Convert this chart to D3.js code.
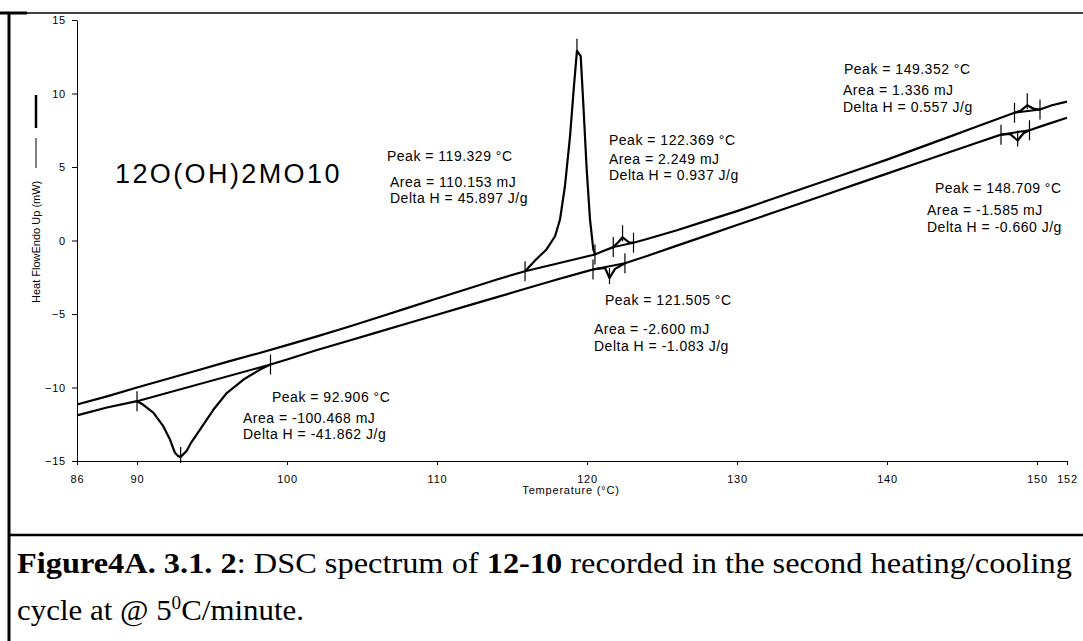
<!DOCTYPE html>
<html>
<head>
<meta charset="utf-8">
<script src="https://cdn.jsdelivr.net/npm/d3@7"></script>
<style>
  html, body { margin: 0; padding: 0; background: #fff; }
  svg { display: block; }
  .lbl { font-family: "Liberation Sans", Arial, sans-serif; fill: #000; }
  .cap { font-family: "Liberation Serif", "Times New Roman", serif; fill: #000; }
</style>
</head>
<body>
<svg id="chart" width="1083" height="641"></svg>
<script>
// ---------------- data ----------------
// Heating curve (upper trace)
const heatT  = [86, 88, 90, 92, 94, 96, 98, 100, 102, 104, 106, 108, 110, 112, 114, 115.87,
                116.6, 117.3, 117.87, 118.2, 118.53, 118.87, 119.13, 119.33, 119.58, 119.75, 119.98, 120.2, 120.42, 120.53,
                121, 121.75, 122.1, 122.37, 122.8, 123.1, 124, 126, 128, 130, 132, 134, 136, 138, 140, 142, 144, 146, 148,
                148.5, 148.9, 149.35, 149.8, 150.2, 151, 152];
const heatHF = [-11.16, -10.6, -10.0, -9.42, -8.84, -8.26, -7.7, -7.12, -6.52, -5.9, -5.25, -4.6, -3.95, -3.3, -2.65, -2.09,
                -1.29, -0.61, 0.29, 1.43, 3.69, 7.1, 10.5, 12.9, 12.54, 9.37, 4.83, 1.43, -0.61, -0.95,
                -0.75, -0.45, -0.1, 0.22, -0.12, -0.15, 0.1, 0.7, 1.35, 2.0, 2.7, 3.4, 4.1, 4.8, 5.5, 6.25, 7.0, 7.75, 8.5,
                8.69, 8.82, 9.2, 8.95, 8.91, 9.2, 9.45];
// Cooling curve (lower trace)
const coolT  = [86, 88, 90, 90.4, 91.1, 91.75, 92.2, 92.53, 92.75, 92.91, 93.3, 93.6, 94.2, 95.1, 96.0, 97.1, 98.2, 98.9,
                100, 102, 104, 106, 108, 110, 112, 114, 116, 118, 120, 120.4, 121.2, 121.5, 121.87, 122.53,
                124, 126, 128, 130, 132, 134, 136, 138, 140, 142, 144, 146, 147.6, 148.2, 148.71, 149.1, 149.5, 150.5, 152];
const coolHF = [-11.9, -11.36, -10.93, -11.16, -11.72, -12.63, -13.54, -14.44, -14.67, -14.72, -14.33, -13.76, -12.86, -11.5, -10.36, -9.46, -8.78, -8.44,
                -8.1, -7.45, -6.85, -6.25, -5.65, -5.05, -4.45, -3.85, -3.25, -2.65, -2.08, -1.97, -1.86, -2.55, -1.93, -1.55,
                -1.05, -0.35, 0.35, 1.05, 1.75, 2.45, 3.15, 3.85, 4.55, 5.25, 5.95, 6.65, 7.2, 7.25, 6.8, 7.3, 7.5, 7.85, 8.35];

// Peak integration limits [T, HF] pairs (start, end) -> straight baselines
const heatLimits = [[[115.87, -2.09], [120.53, -0.95]], [[121.75, -0.45], [123.1, -0.15]], [[148.5, 8.69], [150.2, 8.91]]];
const coolLimits = [[[90.0, -10.93], [98.9, -8.44]], [[120.4, -1.97], [122.53, -1.55]], [[147.6, 7.2], [149.5, 7.5]]];
// Peak markers [T, HF, direction]  (+1 endo up, -1 exo down)
const peakMarks = [[119.33, 12.9, 1], [122.37, 0.22, 1], [149.35, 9.2, 1], [92.91, -14.72, -1], [121.5, -2.55, -1], [148.71, 6.8, -1]];

// Annotation texts
const annoTexts = [
  ["Peak = 119.329 °C", "Area = 110.153 mJ", "Delta H = 45.897 J/g"],
  ["Peak = 122.369 °C", "Area = 2.249 mJ", "Delta H = 0.937 J/g"],
  ["Peak = 121.505 °C", "Area = -2.600 mJ", "Delta H = -1.083 J/g"],
  ["Peak = 92.906 °C", "Area = -100.468 mJ", "Delta H = -41.862 J/g"],
  ["Peak = 149.352 °C", "Area = 1.336 mJ", "Delta H = 0.557 J/g"],
  ["Peak = 148.709 °C", "Area = -1.585 mJ", "Delta H = -0.660 J/g"]
];
const xTicks = [86, 90, 100, 110, 120, 130, 140, 150, 152];
const yTicks = [-15, -10, -5, 0, 5, 10, 15];
const sampleName = "12O(OH)2MO10";
const xTitle = "Temperature (°C)";
const yTitle = "Heat FlowEndo Up (mW)";

// ---------------- layout ----------------
const annoPos = [
  [{x: 387, y: 161}, {x: 390, y: 187}, {x: 390, y: 203}],
  [{x: 609, y: 145}, {x: 609, y: 164}, {x: 609, y: 180}],
  [{x: 605, y: 305}, {x: 594, y: 334}, {x: 594, y: 351}],
  [{x: 272, y: 402}, {x: 243, y: 423}, {x: 243, y: 439}],
  [{x: 844, y: 74}, {x: 843, y: 95}, {x: 843, y: 112}],
  [{x: 935, y: 193}, {x: 927, y: 215}, {x: 927, y: 232}]
];

const svg = d3.select("#chart");
svg.append("rect").attr("width", 1083).attr("height", 641).attr("fill", "#fff");

const x = d3.scaleLinear().domain([86, 152]).range([77, 1067]);
const y = d3.scaleLinear().domain([-15, 15]).range([461, 20]);

// frame
svg.append("line").attr("x1", 8).attr("x2", 1083).attr("y1", 13).attr("y2", 13).attr("stroke", "#000").attr("stroke-width", 1.5);
svg.append("line").attr("x1", 0).attr("x2", 27).attr("y1", 13).attr("y2", 13).attr("stroke", "#000").attr("stroke-width", 3);
svg.append("line").attr("x1", 9).attr("x2", 9).attr("y1", 12).attr("y2", 641).attr("stroke", "#000").attr("stroke-width", 3);
svg.append("line").attr("x1", 8).attr("x2", 1083).attr("y1", 535).attr("y2", 535).attr("stroke", "#000").attr("stroke-width", 2.5);

// axes
const xAxis = d3.axisBottom(x).tickValues(xTicks).tickSize(4).tickSizeOuter(0).tickPadding(6).tickFormat(d3.format("d"));
const yAxis = d3.axisLeft(y).tickValues(yTicks).tickSize(5).tickSizeOuter(0).tickPadding(6).tickFormat(d3.format("d"));
const gx = svg.append("g").attr("transform", "translate(0,461)").call(xAxis);
const gy = svg.append("g").attr("transform", "translate(77,0)").call(yAxis);
[gx, gy].forEach(g => {
  g.selectAll("path,line").attr("stroke", "#000").attr("stroke-width", 1);
  g.selectAll("text").attr("class", "lbl").style("font-size", "11px").style("letter-spacing", "0.8px").attr("fill", "#000");
});
gx.selectAll("text").attr("dy", "1.05em");

svg.append("text").attr("class", "lbl").attr("x", 571).attr("y", 494).attr("text-anchor", "middle")
  .style("font-size", "11px").style("letter-spacing", "0.8px").text(xTitle);

svg.append("text").attr("class", "lbl").attr("transform", "translate(40,303) rotate(-90)")
  .style("font-size", "11px").text(yTitle);
svg.append("line").attr("x1", 36).attr("x2", 36).attr("y1", 168).attr("y2", 138).attr("stroke", "#000").attr("stroke-width", 1);
svg.append("line").attr("x1", 36).attr("x2", 36).attr("y1", 128).attr("y2", 95).attr("stroke", "#000").attr("stroke-width", 2.5);

// sample name
svg.append("text").attr("class", "lbl").attr("x", 115).attr("y", 183)
  .style("font-size", "27px").style("letter-spacing", "2.4px").text(sampleName);

// curves
const line = d3.line().x(d => x(d[0])).y(d => y(d[1])).curve(d3.curveLinear);
const heat = heatT.map((t, i) => [t, heatHF[i]]);
const cool = coolT.map((t, i) => [t, coolHF[i]]);
[heat, cool].forEach(data => {
  svg.append("path").datum(data).attr("d", line).attr("fill", "none").attr("stroke", "#000")
    .attr("stroke-width", 2.2).attr("stroke-linejoin", "round");
});

// baselines and limit ticks
heatLimits.concat(coolLimits).forEach(pair => {
  svg.append("path").datum(pair).attr("d", line).attr("fill", "none").attr("stroke", "#000").attr("stroke-width", 2);
  pair.forEach(p => {
    svg.append("line").attr("x1", x(p[0])).attr("x2", x(p[0]))
      .attr("y1", y(p[1]) - 10).attr("y2", y(p[1]) + 10).attr("stroke", "#000").attr("stroke-width", 1.2);
  });
});
// peak markers
peakMarks.forEach(p => {
  const y0 = y(p[1]);
  svg.append("line").attr("x1", x(p[0])).attr("x2", x(p[0]))
    .attr("y1", p[2] > 0 ? y0 - 12 : y0 - 10).attr("y2", p[2] > 0 ? y0 + 4 : y0 + 6)
    .attr("stroke", "#000").attr("stroke-width", 1.2);
});

// annotations
annoTexts.forEach((lines, i) => {
  lines.forEach((s, j) => {
    svg.append("text").attr("class", "lbl").attr("x", annoPos[i][j].x).attr("y", annoPos[i][j].y)
      .style("font-size", "14px").style("letter-spacing", "0.5px").text(s);
  });
});

// caption
const c1 = svg.append("text").attr("class", "cap").attr("x", 17).attr("y", 573)
  .attr("textLength", 1055).attr("lengthAdjust", "spacingAndGlyphs").style("font-size", "29px");
c1.append("tspan").style("font-weight", "bold").text("Figure4A. 3.1. 2");
c1.append("tspan").text(": DSC spectrum of ");
c1.append("tspan").style("font-weight", "bold").text("12-10");
c1.append("tspan").text(" recorded in the second heating/cooling");

const c2 = svg.append("text").attr("class", "cap").attr("x", 17).attr("y", 620)
  .attr("textLength", 287).attr("lengthAdjust", "spacingAndGlyphs").style("font-size", "29px");
c2.append("tspan").text("cycle at @ 5");
c2.append("tspan").attr("dy", -11).style("font-size", "18px").text("0");
c2.append("tspan").attr("dy", 11).text("C/minute.");
</script>
</body>
</html>
